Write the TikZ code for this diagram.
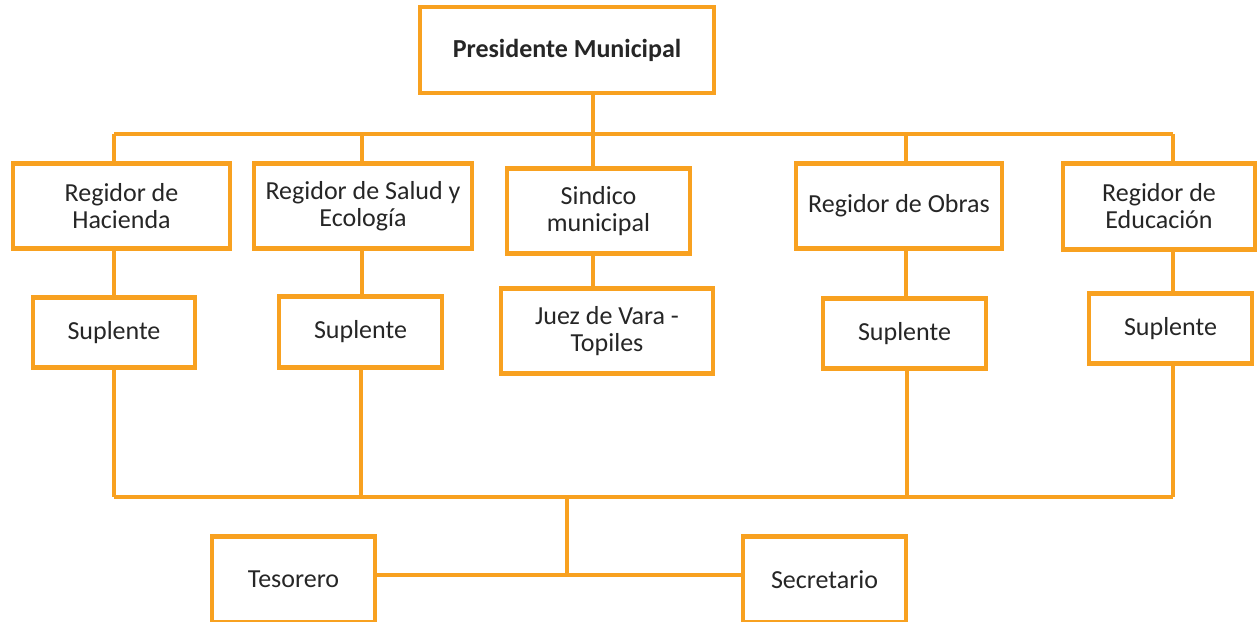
\documentclass[tikz,border=0pt]{standalone}
\usepackage{fontspec}
\setmainfont{Carlito}
\definecolor{orgline}{RGB}{248,161,32}
\definecolor{txt}{RGB}{38,38,38}
\begin{document}
\begin{tikzpicture}[x=1pt,y=-1pt,
  orgbox/.style={draw=orgline,line width=4.5pt,fill=white,inner sep=0pt,outer sep=0pt,
    align=center,text=txt,font=\fontsize{26}{27}\selectfont},
  conn/.style={draw=orgline,line width=4pt}]
\useasboundingbox (0,0) rectangle (1257,621);
\clip (0,0) rectangle (1257,621);
\fill[white] (0,0) rectangle (1257,621);
% bus coordinates
\coordinate (cHac) at (114,134);
\coordinate (cSal) at (362,134);
\coordinate (cSin) at (593,134);
\coordinate (cObr) at (906,134);
\coordinate (cEdu) at (1173,134);
\coordinate (bHac) at (114,497);
\coordinate (bSal) at (361,497);
\coordinate (bObr) at (907,497);
\coordinate (bEdu) at (1173,497);
\coordinate (bMid) at (567,497);
\coordinate (jn) at (567,575);
% boxes
\node[orgbox,minimum width=294,minimum height=86] (pres) at (567,50) {\textbf{Presidente Municipal}};
\node[orgbox,minimum width=217,minimum height=85] (hac) at (121.5,206) {Regidor de\\Hacienda};
\node[orgbox,minimum width=218,minimum height=85] (sal) at (363,206) {Regidor de Salud y\\Ecología};
\node[orgbox,minimum width=183,minimum height=85] (sin) at (598.5,211) {Sindico\\municipal};
\node[orgbox,minimum width=206,minimum height=85] (obr) at (899,206) {Regidor de Obras};
\node[orgbox,minimum width=192,minimum height=86] (edu) at (1159,206.5) {Regidor de\\Educación};
\node[orgbox,minimum width=162,minimum height=70] (sup1) at (114,332.5) {Suplente};
\node[orgbox,minimum width=163,minimum height=71] (sup2) at (360.5,332) {Suplente};
\node[orgbox,minimum width=212,minimum height=85] (juez) at (607,331) {Juez de Vara -\\Topiles};
\node[orgbox,minimum width=163,minimum height=70] (sup4) at (904.5,333.5) {Suplente};
\node[orgbox,minimum width=163,minimum height=70] (sup5) at (1170.5,328.5) {Suplente};
\node[orgbox,minimum width=163,minimum height=86] (tes) at (293.5,579.5) {Tesorero};
\node[orgbox,minimum width=163,minimum height=86] (sec) at (824.5,579.5) {Secretario};
% connectors
\begin{scope}[on background layer/.style={}]
\end{scope}
\draw[conn] (cHac) -- (cEdu);
\draw[conn] (pres.south -| cSin) -- (cSin);
\draw[conn] (cHac) -- (hac.north -| cHac);
\draw[conn] (cSal) -- (sal.north -| cSal);
\draw[conn] (cSin) -- (sin.north -| cSin);
\draw[conn] (cObr) -- (obr.north -| cObr);
\draw[conn] (cEdu) -- (edu.north -| cEdu);
\draw[conn] (hac.south -| cHac) -- (sup1.north -| cHac);
\draw[conn] (sal.south -| cSal) -- (sup2.north -| cSal);
\draw[conn] (sin.south -| cSin) -- (juez.north -| cSin);
\draw[conn] (obr.south -| cObr) -- (sup4.north -| cObr);
\draw[conn] (edu.south -| cEdu) -- (sup5.north -| cEdu);
\draw[conn] (sup1.south -| bHac) -- (bHac);
\draw[conn] (sup2.south -| bSal) -- (bSal);
\draw[conn] (sup4.south -| bObr) -- (bObr);
\draw[conn] (sup5.south -| bEdu) -- (bEdu);
\draw[conn] (bHac) -- (bEdu);
\draw[conn] (bMid) -- (jn);
\draw[conn] (tes.east |- jn) -- (sec.west |- jn);
\end{tikzpicture}
\end{document}
